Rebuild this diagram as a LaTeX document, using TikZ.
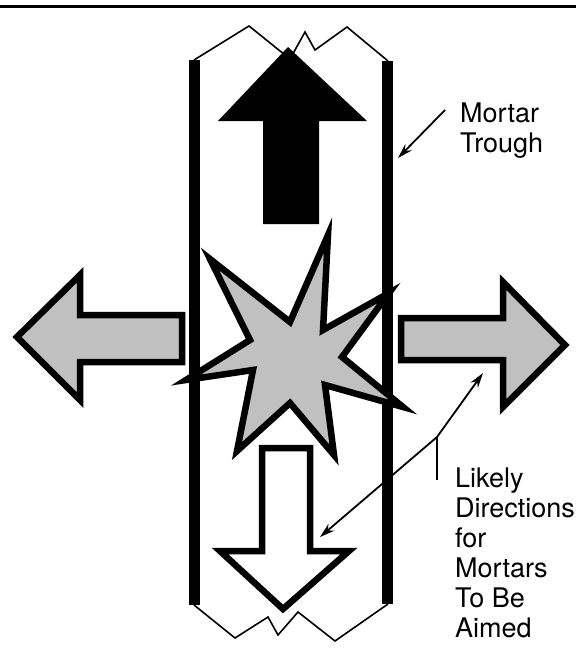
\documentclass[tikz,border=0pt]{standalone}
\usepackage{fontspec}
\setmainfont{TeX Gyre Heros}
\usepackage{tikz}
\usetikzlibrary{arrows.meta}
\definecolor{cgray}{RGB}{192,192,192}

\begin{document}
\begin{tikzpicture}[x=1pt,y=-1pt,>={Stealth[length=15pt,width=9pt]},
bar/.style={fill=black},
zig/.style={line width=1.6pt,line join=miter},
outl/.style={draw=black,line width=6.5pt,line join=miter},
lbl/.style={inner sep=0pt,anchor=north west,align=left,font=\fontsize{27}{30}\selectfont},
lead/.style={line width=1.8pt}]
\useasboundingbox (0,0) rectangle (576,656);
\draw[line width=3pt] (0,6.5) -- (576,6.5);
% trough
\fill[bar] (189,60) rectangle (200,605);
\fill[bar] (382,61) rectangle (393,604);
\draw[zig] (194,60) -- (249,26) -- (290,59) -- (305,32) -- (315,50) -- (347,27) -- (388,61);
\draw[zig] (194,605) -- (235,638) -- (268,617) -- (278,635) -- (298,612) -- (335,641) -- (388,604);
% arrows
\fill[black] (288,47) -- (367,121) -- (319,121) -- (319,224) -- (263,224) -- (263,121) -- (218,121) -- cycle;
\draw[outl,fill=white] (262,448) -- (310,448) -- (310,551) -- (349,551) -- (283,609) -- (220,551) -- (262,551) -- cycle;
\draw[outl,fill=cgray] (17,337) -- (80,275) -- (80,315) -- (182,315) -- (182,362) -- (80,362) -- (80,400) -- cycle;
\draw[outl,fill=cgray] (565,345) -- (503,282) -- (503,318) -- (401,318) -- (401,360) -- (503,360) -- (503,407) -- cycle;
% blast
\draw[outl,fill=cgray] (328,235) -- (323,330) -- (389,293) -- (342,357) -- (403,407) -- (325,385)
  -- (334,455) -- (290,403) -- (237,451) -- (253,370) -- (186,380) -- (250,340) -- (210,259) -- (290,322) -- cycle;
% labels
\node[lbl] (trough) at (460,103) {Mortar\\Trough};
\node[lbl] (likely) at (455,468) {Likely\\Directions\\for\\Mortars\\To Be\\Aimed};
\coordinate (trtail) at (445,110);
\coordinate (trtip) at (398,158);
\coordinate (fork) at (437,437);
\coordinate (forkfoot) at (437,480);
\coordinate (tipright) at (483,373);
\coordinate (tipdown) at (320,537);
\draw[lead,->] (trtail) -- (trtip);
\draw[lead] (forkfoot) -- (fork);
\draw[lead,->] (fork) -- (tipright);
\draw[lead,->] (fork) -- (tipdown);
\end{tikzpicture}
\end{document}
